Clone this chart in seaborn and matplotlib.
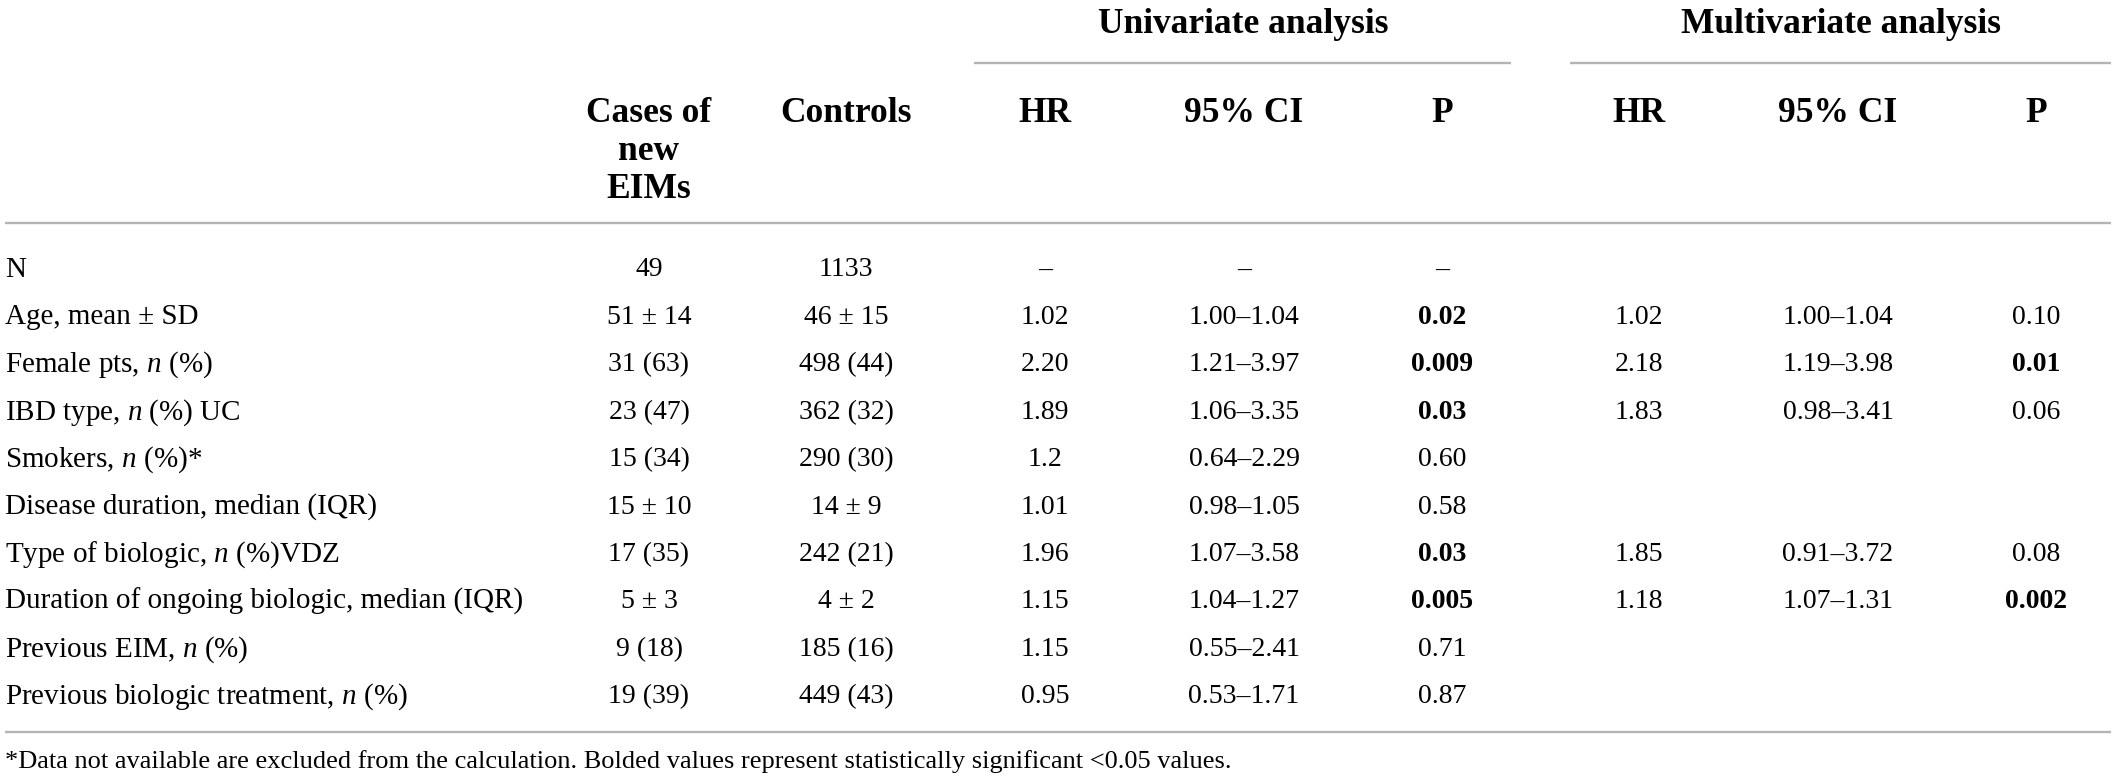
import matplotlib
matplotlib.use("Agg")
import matplotlib.pyplot as plt
import seaborn as sns

sns.set_theme(style="white")
plt.rcParams["font.family"] = ["Liberation Serif", "DejaVu Serif"]
plt.rcParams["text.color"] = "black"
plt.rcParams["mathtext.fontset"] = "custom"
plt.rcParams["mathtext.rm"] = "Liberation Serif"
plt.rcParams["mathtext.it"] = "Liberation Serif:italic"

# table content
row_labels = [
    "N",
    "Age, mean \u00b1 SD",
    "Female pts, $n$ (%)",
    "IBD type, $n$ (%) UC",
    "Smokers, $n$ (%)*",
    "Disease duration, median (IQR)",
    "Type of biologic, $n$ (%)VDZ",
    "Duration of ongoing biologic, median (IQR)",
    "Previous EIM, $n$ (%)",
    "Previous biologic treatment, $n$ (%)",
]
cases = ["49", "51 \u00b1 14", "31 (63)", "23 (47)", "15 (34)", "15 \u00b1 10",
         "17 (35)", "5 \u00b1 3", "9 (18)", "19 (39)"]
controls = ["1133", "46 \u00b1 15", "498 (44)", "362 (32)", "290 (30)", "14 \u00b1 9",
            "242 (21)", "4 \u00b1 2", "185 (16)", "449 (43)"]
uni_hr = ["\u2013", "1.02", "2.20", "1.89", "1.2", "1.01", "1.96", "1.15", "1.15", "0.95"]
uni_ci = ["\u2013", "1.00\u20131.04", "1.21\u20133.97", "1.06\u20133.35", "0.64\u20132.29",
          "0.98\u20131.05", "1.07\u20133.58", "1.04\u20131.27", "0.55\u20132.41", "0.53\u20131.71"]
uni_p = ["\u2013", "0.02", "0.009", "0.03", "0.60", "0.58", "0.03", "0.005", "0.71", "0.87"]
multi_hr = ["", "1.02", "2.18", "1.83", "", "", "1.85", "1.18", "", ""]
multi_ci = ["", "1.00\u20131.04", "1.19\u20133.98", "0.98\u20133.41", "", "",
            "0.91\u20133.72", "1.07\u20131.31", "", ""]
multi_p = ["", "0.10", "0.01", "0.06", "", "", "0.08", "0.002", "", ""]
uni_p_bold = [False, True, True, True, False, False, True, True, False, False]
multi_p_bold = [False, False, True, False, False, False, False, True, False, False]

col_headers = ["Cases of\nnew\nEIMs", "Controls", "HR", "95% CI", "P", "HR", "95% CI", "P"]
group_headers = ["Univariate analysis", "Multivariate analysis"]
footnote = ("*Data not available are excluded from the calculation. "
            "Bolded values represent statistically significant <0.05 values.")

W, H = 2117, 784
fig = plt.figure(figsize=(W / 100, H / 100), dpi=100)
ax = fig.add_axes([0, 0, 1, 1])
ax.set_xlim(0, W)
ax.set_ylim(H, 0)
ax.axis("off")

col_x = [649, 846, 1045, 1244, 1442, 1639, 1838, 2036]
row_y0, row_dy = 270, 47.4
label_fs, body_fs, head_fs = 21, 20, 25.5
line_col = "#b4b4b4"

# group headers and rules
ax.text(1243, 24, group_headers[0], ha="center", va="center", fontsize=head_fs, fontweight="bold")
ax.text(1841, 24, group_headers[1], ha="center", va="center", fontsize=head_fs, fontweight="bold")
ax.plot([974, 1511], [63, 63], color=line_col, lw=1.7, solid_capstyle="butt")
ax.plot([1570, 2111], [63, 63], color=line_col, lw=1.7, solid_capstyle="butt")

# column headers
for x, h in zip(col_x, col_headers):
    ax.text(x, 97, h, ha="center", va="top", fontsize=head_fs, fontweight="bold",
            linespacing=1.2, multialignment="center")
ax.plot([5, 2111], [223, 223], color=line_col, lw=1.7, solid_capstyle="butt")

# body rows
for i, lab in enumerate(row_labels):
    y = row_y0 + i * row_dy
    ax.text(5, y, lab, ha="left", va="center", fontsize=label_fs)
    cells = [cases[i], controls[i], uni_hr[i], uni_ci[i], uni_p[i],
             multi_hr[i], multi_ci[i], multi_p[i]]
    bold = [False, False, False, False, uni_p_bold[i], False, False, multi_p_bold[i]]
    for x, c, b in zip(col_x, cells, bold):
        if c:
            ax.text(x, y, c, ha="center", va="center", fontsize=body_fs,
                    fontweight="bold" if b else "normal")

ax.plot([5, 2111], [732, 732], color=line_col, lw=1.7, solid_capstyle="butt")
ax.text(5, 762, footnote, ha="left", va="center", fontsize=19)

fig.savefig("out.png", dpi=100, facecolor="white")
